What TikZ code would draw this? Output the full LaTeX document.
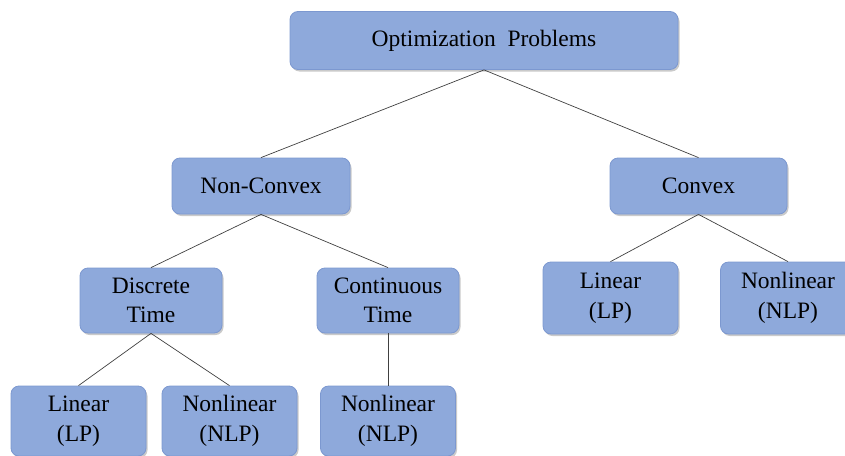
\documentclass[tikz,border=0pt]{standalone}
\usepackage{fontspec}
\setmainfont{Liberation Serif}
\usetikzlibrary{shadows}
\definecolor{boxfill}{HTML}{8EA9DB}
\definecolor{boxline}{HTML}{7C98D0}
\definecolor{edgecol}{HTML}{404040}
\begin{document}
\begin{tikzpicture}[x=1pt,y=1pt,
  box/.style={draw=boxline, line width=0.8pt, fill=boxfill, rounded corners=8pt,
    inner sep=0pt, align=center, text=black,
    font=\fontsize{23.5}{29.5}\selectfont,
    drop shadow={shadow xshift=1.5pt, shadow yshift=-2pt, opacity=0.35, fill=black!60}},
  edge/.style={draw=edgecol, line width=0.7pt}]
\useasboundingbox (0,0) rectangle (845,-455);
\node[box, minimum width=388pt, minimum height=58pt] (opt) at (484,-40.5) {Optimization\ \ Problems};
\node[box, minimum width=178pt, minimum height=56pt] (nc) at (261,-186) {Non-Convex};
\node[box, minimum width=177pt, minimum height=56pt] (cv) at (698.5,-186) {Convex};
\node[box, minimum width=142pt, minimum height=65pt] (dt) at (151,-300.5) {Discrete\\Time};
\node[box, minimum width=142pt, minimum height=65pt] (ct) at (388,-300.5) {Continuous\\Time};
\node[box, minimum width=135pt, minimum height=70pt] (l1) at (78.5,-421) {Linear\\(LP)};
\node[box, minimum width=135pt, minimum height=70pt] (n1) at (229.5,-421) {Nonlinear\\(NLP)};
\node[box, minimum width=135pt, minimum height=70pt] (n2) at (388,-421) {Nonlinear\\(NLP)};
\node[box, minimum width=135pt, minimum height=72pt] (l2) at (610.5,-298) {Linear\\(LP)};
\node[box, minimum width=135pt, minimum height=72pt] (n3) at (788,-298) {Nonlinear\\(NLP)};
\draw[edge] (opt.south) -- (nc.north);
\draw[edge] (opt.south) -- (cv.north);
\draw[edge] (nc.south) -- (dt.north);
\draw[edge] (nc.south) -- (ct.north);
\draw[edge] (dt.south) -- (l1.north);
\draw[edge] (dt.south) -- (n1.north);
\draw[edge] (ct.south) -- (n2.north);
\draw[edge] (cv.south) -- (l2.north);
\draw[edge] (cv.south) -- (n3.north);
\end{tikzpicture}
\end{document}
